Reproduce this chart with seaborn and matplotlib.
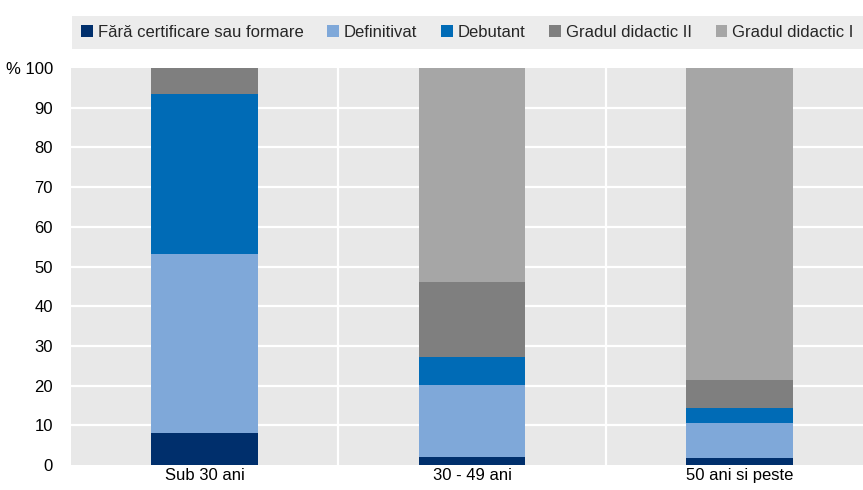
import matplotlib
matplotlib.use("Agg")
import matplotlib.pyplot as plt
from matplotlib.patches import Patch
import seaborn as sns
import numpy as np

# Age groups and share of teachers (%) by certification level
categories = ["Sub 30 ani", "30 - 49 ani", "50 ani si peste"]
series_names = ["Fără certificare sau formare", "Definitivat", "Debutant",
                "Gradul didactic II", "Gradul didactic I"]
fara = [8.0, 2.0, 1.8]
definitivat = [45.2, 18.2, 8.7]
debutant = [40.2, 7.1, 3.9]
gradul_ii = [6.6, 18.9, 7.0]
gradul_i = [0.0, 53.8, 78.6]
y_ticks = [0, 10, 20, 30, 40, 50, 60, 70, 80, 90, 100]
y_tick_labels = ["0", "10", "20", "30", "40", "50", "60", "70", "80", "90", "% 100"]

colors = ["#002F6C", "#7FA8D9", "#006BB6", "#7F7F7F", "#A6A6A6"]
series = [fara, definitivat, debutant, gradul_ii, gradul_i]

sns.set_theme(style="white")
plt.rcParams["font.family"] = ["Liberation Sans Narrow", "Liberation Sans", "DejaVu Sans"]

fig = plt.figure(figsize=(8.63, 4.90), dpi=100)
# plot panel runs slightly past the right edge of the canvas
ax = fig.add_axes([71 / 863, 1 - 465 / 490, 802 / 863, 397 / 490])
ax.set_facecolor("#E8E8E8")

bottom = np.zeros(len(categories))
for name, vals, col in zip(series_names, series, colors):
    sns.barplot(x=categories, y=vals, bottom=bottom, color=col, width=0.4,
                ax=ax, zorder=3, linewidth=0, saturation=1)
    bottom = bottom + np.array(vals)

ax.set_xlim(-0.5, len(categories) - 0.5)
ax.set_ylim(0, 100)
ax.set_yticks(y_ticks)
ax.set_yticklabels(y_tick_labels)
for y in y_ticks[1:-1]:
    ax.axhline(y, color="white", lw=1.6, zorder=1)
for x in np.arange(0.5, len(categories) - 0.5, 1):
    ax.axvline(x, color="white", lw=1.6, zorder=1)

for s in ax.spines.values():
    s.set_visible(False)
ax.tick_params(axis="both", length=0, labelsize=12, colors="#000000")
ax.tick_params(axis="y", pad=13)
ax.tick_params(axis="x", pad=2)
ax.set_xlabel("")
ax.set_ylabel("")

handles = [Patch(facecolor=c, edgecolor="none") for c in colors]
leg = fig.legend(handles, series_names, loc="lower left",
                 bbox_to_anchor=(72 / 863, 1 - 49 / 490, 791 / 863, 38 / 490),
                 mode="expand", ncol=5, frameon=True, fancybox=False,
                 fontsize=12, handlelength=0.7, handleheight=0.7,
                 handletextpad=0.3, columnspacing=1.0, borderaxespad=0,
                 borderpad=0.55)
leg.get_frame().set_facecolor("#E8E8E8")
leg.get_frame().set_edgecolor("none")

fig.savefig("out.png", dpi=100, facecolor="white")
